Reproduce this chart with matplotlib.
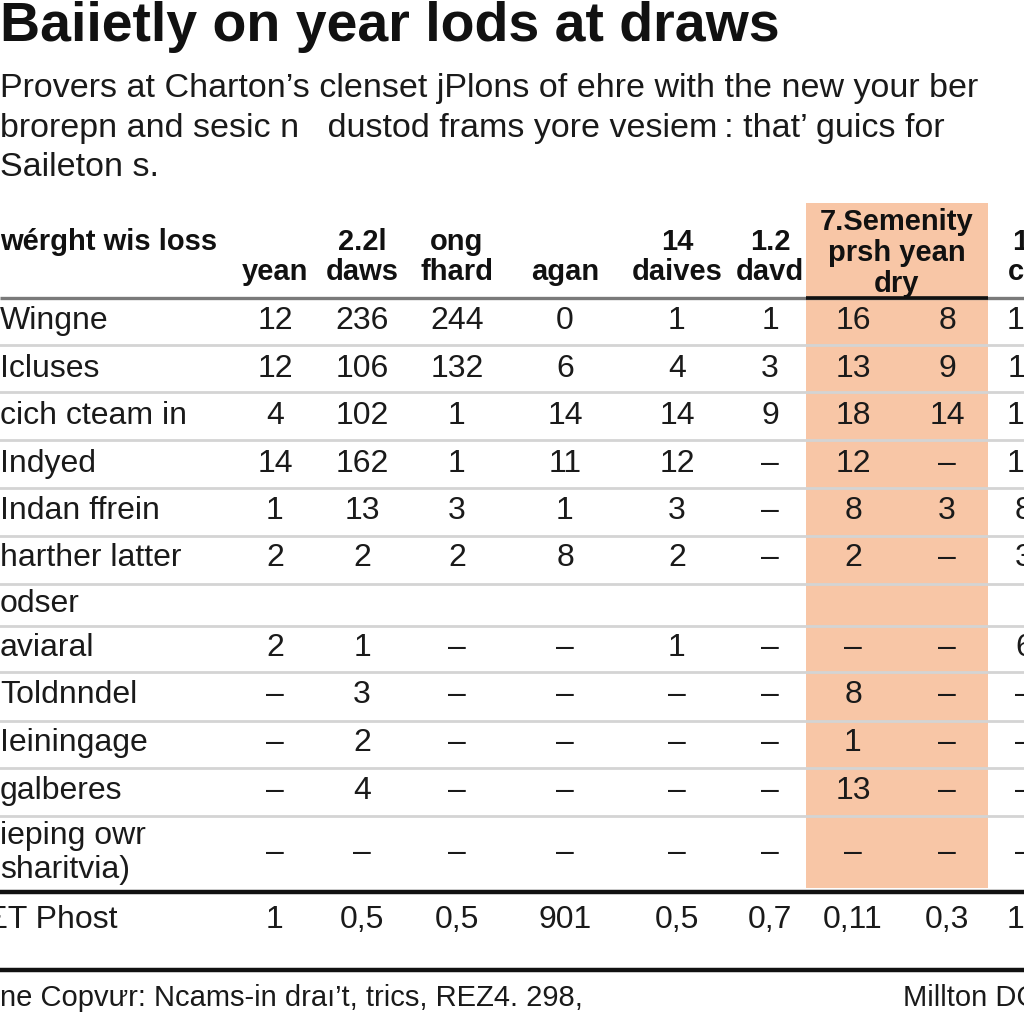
import matplotlib
matplotlib.use("Agg")
import matplotlib.pyplot as plt

# ---------------- data ----------------
title = "Baiietly on year lods at draws"
subtitle = ["Provers at Charton\u2019s clenset jPlons of ehre with the new your ber",
            "brorepn and sesic n \u00a0 dustod frams yore vesiem\u2009: that\u2019 guics for",
            "Saileton s."]
corner_header = "w\u00e9rght wis loss"
col_headers_top = ["", "2.2l", "ong", "", "14", "1.2", "", "", "1."]
col_headers_bottom = ["yean", "daws", "fhard", "agan", "daives", "davd", "", "", "ca"]
group_header = ["7.Semenity", "prsh yean", "dry"]
row_labels = ["Wingne", "Icluses", "cich cteam in", "Indyed", "Indan ffrein",
              "harther latter", "odser", "aviaral", "Toldnndel", "Ieiningage",
              "galberes", "ieping owr\nsharitvia)"]
D = "\u2013"
col1 = ["12", "12", "4", "14", "1", "2", "", "2", D, D, D, D]
col2 = ["236", "106", "102", "162", "13", "2", "", "1", "3", "2", "4", D]
col3 = ["244", "132", "1", "1", "3", "2", "", D, D, D, D, D]
col4 = ["0", "6", "14", "11", "1", "8", "", D, D, D, D, D]
col5 = ["1", "4", "14", "12", "3", "2", "", "1", D, D, D, D]
col6 = ["1", "3", "9", D, D, D, "", D, D, D, D, D]
col7 = ["16", "13", "18", "12", "8", "2", "", D, "8", "1", "13", D]
col8 = ["8", "9", "14", D, "3", D, "", D, D, D, D, D]
col9 = ["12", "11", "16", "14", "8", "3", "", "6", D, D, D, D]
total_label = "\u03a3T Phost"
total_values = ["1", "0,5", "0,5", "901", "0,5", "0,7", "0,11", "0,3", "10"]
highlight_cols = [6, 7]
footer_left = "ne Copv\u01b0r: Ncams-in dra\u0131\u2019t, trics, REZ4. 298,"
footer_right = "Millton DC"

columns = [col1, col2, col3, col4, col5, col6, col7, col8, col9]

# ---------------- fonts ----------------
plt.rcParams["font.family"] = ["Liberation Sans", "DejaVu Sans"]

# ---------------- layout ----------------
col_x = [275, 362, 457, 565, 677, 770, 853, 947, 1024]
row_y = [321, 369, 416, 464, 511, 558, 604, 648, 695, 743, 791, 853]
sep_y = [345, 392, 440, 488, 536, 584, 626, 672, 721, 768, 816]
total_y = 920

fig = plt.figure(figsize=(10.24, 10.24), dpi=100)
ax = fig.add_axes([0, 0, 1, 1])
ax.set_xlim(0, 1024)
ax.set_ylim(1024, 0)
ax.axis("off")

# highlight band
hx0 = (col_x[highlight_cols[0]] + col_x[highlight_cols[0] - 1]) / 2 - 6
hx1 = (col_x[highlight_cols[-1]] + col_x[highlight_cols[-1] + 1]) / 2 + 2
ax.axvspan(hx0, hx1, ymin=1 - 888 / 1024, ymax=1 - 203 / 1024,
           color="#f8c6a6", zorder=0, lw=0)

# title / subtitle
ax.text(0, 27, title, fontsize=40, fontweight="bold", va="center", ha="left",
        color="#111111")
for i, s in enumerate(subtitle):
    ax.text(0, 88 + 40 * i, s, fontsize=24.5, va="center", ha="left",
            color="#1a1a1a")

# headers
hdr_kw = dict(fontsize=21, fontweight="bold", va="center", color="#111111")
ax.text(0, 242, corner_header, ha="left", **hdr_kw)
for x, t, b in zip(col_x, col_headers_top, col_headers_bottom):
    if t:
        ax.text(x, 242, t, ha="center", **hdr_kw)
    if b:
        ax.text(x, 272, b, ha="center", **hdr_kw)
gx = (hx0 + hx1) / 2
for i, s in enumerate(group_header):
    ax.text(gx, 222 + 31 * i, s, ha="center", **hdr_kw)

# header rule
ax.plot([0, 1024], [298, 298], color="#7a7a7a", lw=2.4, solid_capstyle="butt")
ax.plot([hx0, hx1], [298, 298], color="#111111", lw=2.6, solid_capstyle="butt")

# row separators
for y in sep_y:
    ax.plot([0, 1024], [y, y], color="#d4d4d4", lw=2.0, zorder=1)

# body
body_kw = dict(fontsize=23, va="center", color="#1a1a1a")
for lab, y in zip(row_labels, row_y):
    ax.text(0, y, lab, ha="left", linespacing=1.2, **body_kw)
for x, col in zip(col_x, columns):
    for v, y in zip(col, row_y):
        if v:
            ax.text(x, y, v, ha="center", **body_kw)

# totals
ax.plot([0, 1024], [892, 892], color="#111111", lw=3.2)
ax.text(-12, total_y, total_label, ha="left", **body_kw)
for x, v in zip(col_x, total_values):
    ax.text(x, total_y, v, ha="center", **body_kw)
ax.plot([0, 1024], [970, 970], color="#111111", lw=3.2)

# footer
ax.text(0, 998, footer_left, ha="left", fontsize=21, va="center", color="#1a1a1a")
ax.text(903, 998, footer_right, ha="left", fontsize=21, va="center", color="#1a1a1a")

fig.savefig("out.png", dpi=100)
